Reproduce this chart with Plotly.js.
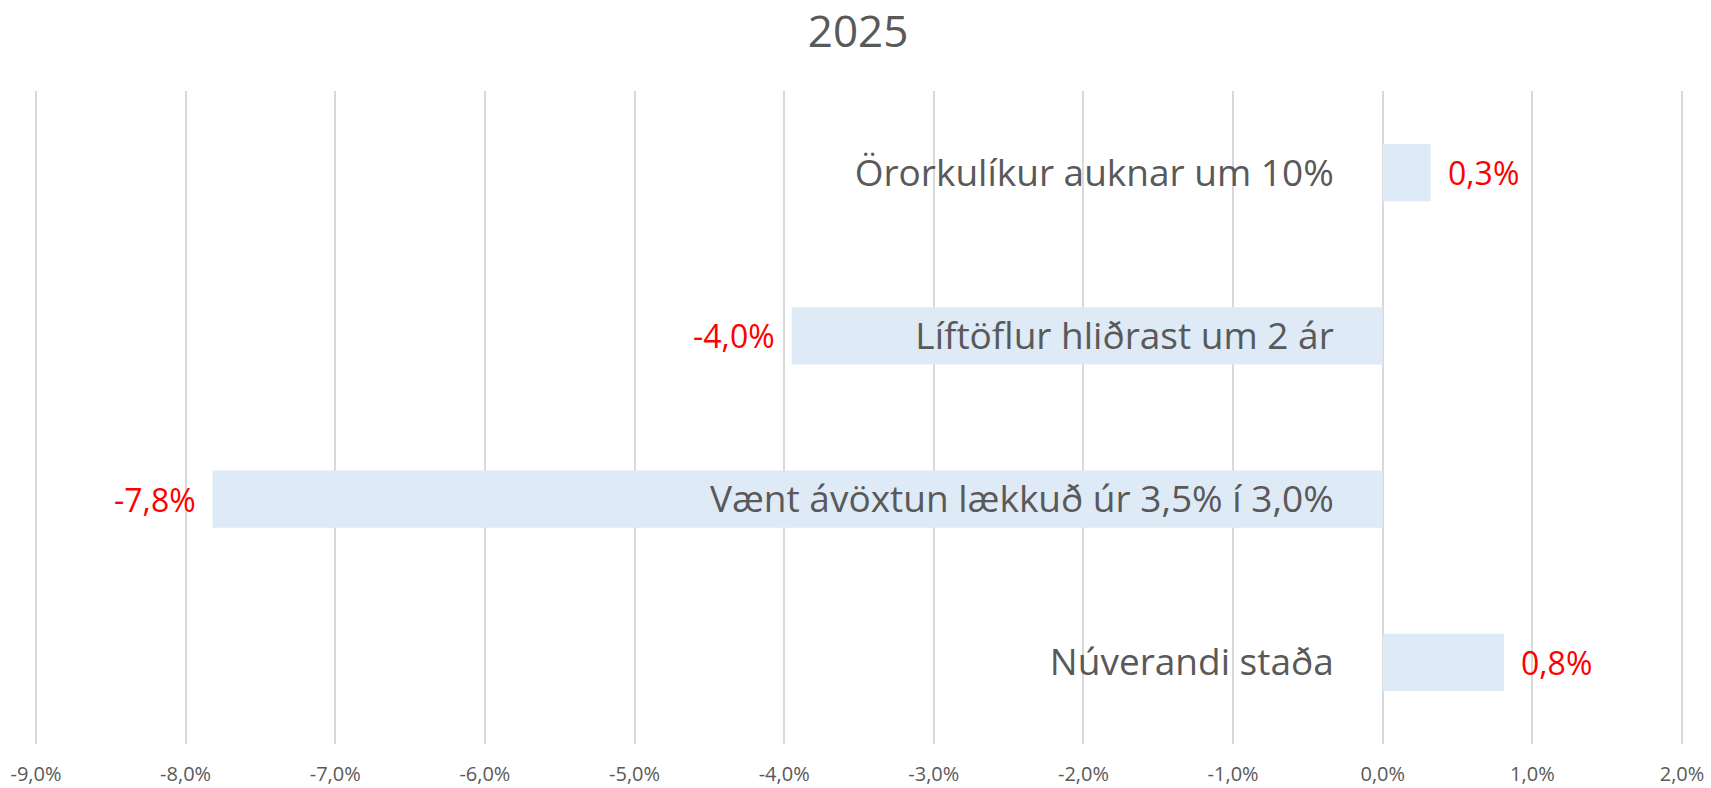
<!DOCTYPE html>
<html>
<head>
<meta charset="utf-8">
<script src="https://cdn.plot.ly/plotly-3.0.1.min.js"></script>
<style>html,body{margin:0;padding:0;background:#fff;}#chart{width:1711px;height:788px;}</style>
</head>
<body>
<div id="chart"></div>
<script>
const categories = ['Núverandi staða', 'Vænt ávöxtun lækkuð úr 3,5% í 3,0%', 'Líftöflur hliðrast um 2 ár', 'Örorkulíkur auknar um 10%'];
const values = [0.81, -7.82, -3.95, 0.32];
const valueLabels = ['0,8%', '-7,8%', '-4,0%', '0,3%'];
const tickValues = [-9, -8, -7, -6, -5, -4, -3, -2, -1, 0, 1, 2];
const tickLabels = ['-9,0%', '-8,0%', '-7,0%', '-6,0%', '-5,0%', '-4,0%', '-3,0%', '-2,0%', '-1,0%', '0,0%', '1,0%', '2,0%'];

const FONT = 'Open Sans, sans-serif';
const xr = [-9.1, 2.1];

const trace = {
  type: 'bar',
  orientation: 'h',
  y: categories,
  x: values,
  marker: {color: '#DEEAF6'},
  hoverinfo: 'none'
};

const annotations = values.map((v, i) => ({
  x: v, y: categories[i], xref: 'x', yref: 'y',
  text: valueLabels[i], showarrow: false,
  xanchor: v >= 0 ? 'left' : 'right',
  xshift: v >= 0 ? 15 : -15,
  font: {family: FONT, size: 32, color: '#FF0000'}
}));

const layout = {
  width: 1711, height: 788,
  margin: {l: 21, r: 14, t: 91, b: 44},
  paper_bgcolor: '#ffffff', plot_bgcolor: '#ffffff',
  showlegend: false,
  bargap: 0.648,
  title: {text: '2025', font: {family: FONT, size: 44, color: '#595959'},
          x: 0.5015, xanchor: 'center', yref: 'container', y: 0.96, yanchor: 'middle'},
  xaxis: {
    range: xr, tickvals: tickValues, ticktext: tickLabels,
    showgrid: true, gridcolor: '#D9D9D9', gridwidth: 2,
    zeroline: false, showline: false, ticks: '',
    tickfont: {family: FONT, size: 20, color: '#595959'},
    ticklabelstandoff: 16, fixedrange: true
  },
  yaxis: {
    type: 'category', anchor: 'free', position: (0 - xr[0]) / (xr[1] - xr[0]),
    showgrid: false, zeroline: false, showline: false, ticks: '',
    tickfont: {family: FONT, size: 37, color: '#595959'},
    ticklabelstandoff: 49, fixedrange: true
  },
  annotations: annotations
};

Plotly.newPlot('chart', [trace], layout, {displayModeBar: false, staticPlot: true});
</script>
</body>
</html>
